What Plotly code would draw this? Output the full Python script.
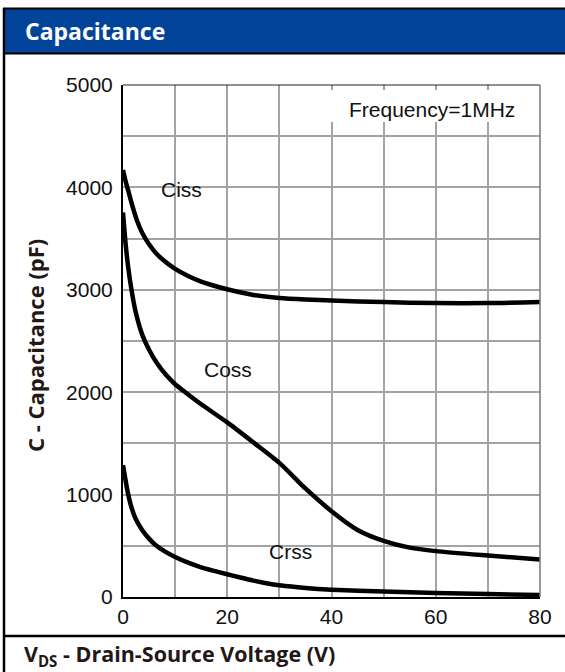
import plotly.graph_objects as go

# ---- data ----
ciss_x = [0, 0.5, 1, 1.8, 2.7, 3.7, 5, 6.3, 8, 10, 12.5, 15, 20, 25, 30, 35, 40, 50, 60, 70, 80]
ciss_y = [4170, 4060, 3970, 3820, 3675, 3555, 3445, 3360, 3278, 3205, 3135, 3080, 3005, 2950, 2920, 2905, 2895, 2880, 2870, 2870, 2880]

coss_x = [0, 0.5, 1, 1.5, 2.4, 3.7, 5, 6.5, 8.2, 10, 12.5, 15, 20, 25, 30, 35, 40, 45, 50, 55, 60, 70, 80]
coss_y = [3756, 3450, 3220, 3040, 2790, 2560, 2415, 2285, 2172, 2078, 1978, 1882, 1705, 1510, 1310, 1060, 838, 655, 548, 482, 448, 405, 366]

crss_x = [0, 0.84, 1.5, 2.4, 3.7, 5, 6.3, 8, 10, 12.5, 15, 17.5, 20, 22.5, 25, 27.5, 30, 35, 40, 50, 60, 70, 80]
crss_y = [1287, 1042, 896, 766, 652, 570, 505, 445, 391, 335, 290, 255, 222, 190, 160, 135, 115, 89, 72, 53, 39, 29, 20]

series_names = ["Ciss", "Coss", "Crss"]
label_pos = [(11.3, 3975), (20.1, 2218), (32.2, 449)]

x_ticks = [0, 20, 40, 60, 80]
y_ticks = [0, 1000, 2000, 3000, 4000, 5000]

title_text = "Capacitance"
x_title = "V<sub>DS</sub> - Drain-Source Voltage (V)"
y_title = "C - Capacitance (pF)"
note_text = "Frequency=1MHz"

W, H = 565, 672
L, R, T, B = 123, 25, 85, 75
PW, PH = W - L - R, H - T - B


def px_x(p):
    return (p - L) / PW


def px_y(p):
    return (H - B - p) / PH


tick_font = dict(family="Liberation Sans, Arial", size=21, color="#111111")
bold_font = "Open Sans, Noto Sans, sans-serif"

fig = go.Figure()
for xs, ys, nm in zip([ciss_x, coss_x, crss_x], [ciss_y, coss_y, crss_y], series_names):
    fig.add_trace(go.Scatter(x=xs, y=ys, mode="lines", name=nm,
                             line=dict(color="black", width=4.5, shape="spline", smoothing=0.7),
                             showlegend=False, hoverinfo="skip"))

grid_c = "#a3a3a3"
fig.update_xaxes(range=[0, 80], tickvals=x_ticks, showgrid=True, gridcolor=grid_c, gridwidth=1.5,
                 minor=dict(dtick=10, showgrid=True, gridcolor=grid_c, gridwidth=1.5),
                 showline=True, linecolor="black", linewidth=2, zeroline=False,
                 ticks="", tickfont=tick_font, fixedrange=True)
fig.update_yaxes(range=[0, 5000], tickvals=y_ticks, showgrid=True, gridcolor=grid_c, gridwidth=1.5,
                 minor=dict(dtick=500, showgrid=True, gridcolor=grid_c, gridwidth=1.5),
                 showline=True, linecolor="black", linewidth=2, zeroline=False,
                 ticks="", tickfont=tick_font, ticklabelstandoff=4, fixedrange=True)

shapes = []
# white box behind the note
shapes.append(dict(type="rect", xref="x", yref="y", x0=39.7, x1=79.4, y0=4639, y1=4951,
                   fillcolor="white", line=dict(width=0), layer="between"))
# top and right frame of plot
shapes.append(dict(type="line", xref="paper", yref="paper", x0=0, x1=1, y0=1, y1=1,
                   line=dict(color="#222222", width=1)))
shapes.append(dict(type="line", xref="paper", yref="paper", x0=1, x1=1, y0=0, y1=1,
                   line=dict(color="#777777", width=1.5)))
# header bar
shapes.append(dict(type="rect", xref="paper", yref="paper", x0=px_x(4), x1=px_x(W + 5),
                   y0=px_y(53), y1=px_y(9), fillcolor="#02449a", line=dict(width=0), layer="below"))
# top border
shapes.append(dict(type="line", xref="paper", yref="paper", x0=px_x(3), x1=px_x(W + 5),
                   y0=px_y(8.5), y1=px_y(8.5), line=dict(color="black", width=2)))
# header bottom line
shapes.append(dict(type="line", xref="paper", yref="paper", x0=px_x(3), x1=px_x(W + 5),
                   y0=px_y(53.5), y1=px_y(53.5), line=dict(color="black", width=2)))
# bottom separator
shapes.append(dict(type="line", xref="paper", yref="paper", x0=px_x(3), x1=px_x(W + 5),
                   y0=px_y(636), y1=px_y(636), line=dict(color="black", width=2.5)))
# left border
shapes.append(dict(type="line", xref="paper", yref="paper", x0=px_x(4), x1=px_x(4),
                   y0=px_y(8), y1=px_y(H + 5), line=dict(color="black", width=2.5)))

annotations = []
for nm, (ax, ay) in zip(series_names, label_pos):
    annotations.append(dict(x=ax, y=ay, xref="x", yref="y", text=nm, showarrow=False,
                            font=tick_font, xanchor="center", yanchor="middle"))
annotations.append(dict(x=59.3, y=4756, xref="x", yref="y", text=note_text, showarrow=False,
                        font=tick_font, xanchor="center", yanchor="middle"))
annotations.append(dict(x=px_x(23), y=px_y(30.5), xref="paper", yref="paper", text="<b>" + title_text + "</b>",
                        showarrow=False, xanchor="left", yanchor="middle",
                        font=dict(family=bold_font, size=23, color="white")))
annotations.append(dict(x=px_x(22), y=px_y(655), xref="paper", yref="paper", text="<b>" + x_title + "</b>",
                        showarrow=False, xanchor="left", yanchor="middle",
                        font=dict(family=bold_font, size=21.5, color="#231815")))
annotations.append(dict(x=px_x(35), y=px_y(346), xref="paper", yref="paper", text="<b>" + y_title + "</b>",
                        showarrow=False, xanchor="center", yanchor="middle", textangle=-90,
                        font=dict(family=bold_font, size=22, color="#231815")))

fig.update_layout(width=W, height=H, margin=dict(l=L, r=R, t=T, b=B),
                  paper_bgcolor="white", plot_bgcolor="white",
                  shapes=shapes, annotations=annotations)

fig.write_html("out.html", config={"displayModeBar": False},
               post_script="document.body.style.margin='0px';document.body.style.overflow='hidden';")
